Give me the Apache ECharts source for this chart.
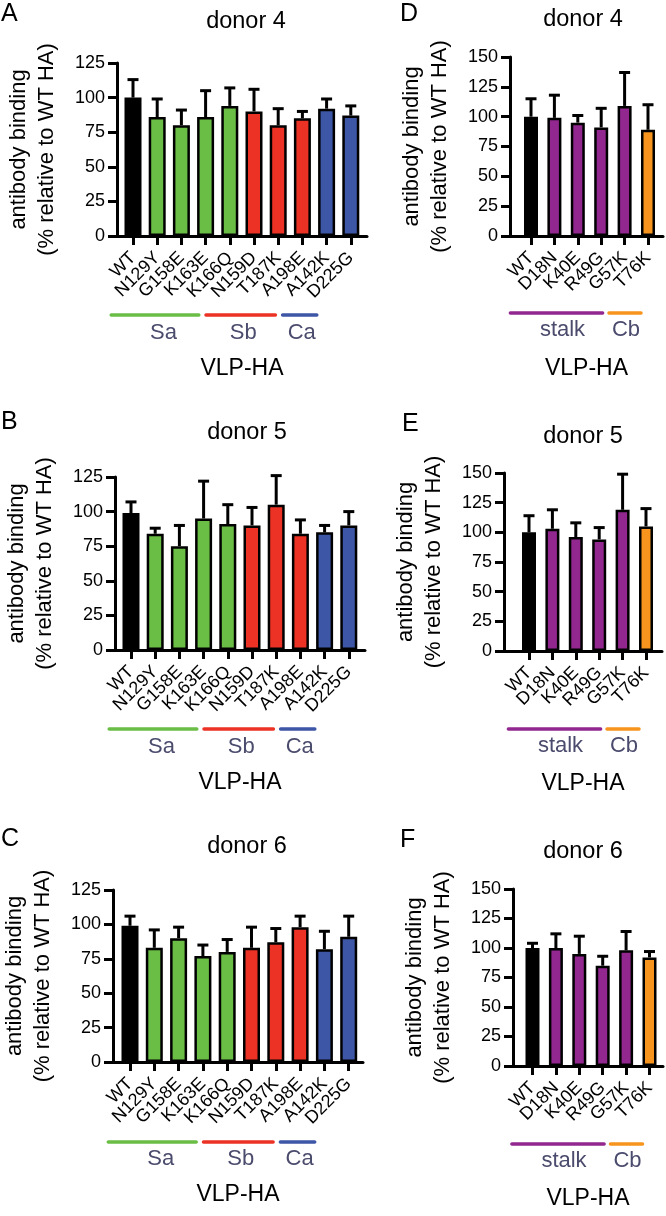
<!DOCTYPE html>
<html><head><meta charset="utf-8">
<script src="https://cdn.jsdelivr.net/npm/echarts@6/dist/echarts.min.js"></script>
<style>html,body{margin:0;padding:0;background:#fff}#c{width:666px;height:1216px}</style>
</head><body><div id="c"></div>
<script>
// ---------- data ----------
const headMutants = ['WT','N129Y','G158E','K163E','K166Q','N159D','T187K','A198E','A142K','D225G'];
const headGroups  = ['WT','Sa','Sa','Sa','Sa','Sb','Sb','Sb','Ca','Ca'];
const stalkMutants = ['WT','D18N','K40E','R49G','G57K','T76K'];
const stalkGroups  = ['WT','stalk','stalk','stalk','stalk','Cb'];

const donor4Head      = [100, 86, 80, 86, 94, 90, 80, 85, 92, 87];
const donor4HeadUpper = [113, 99, 91, 105, 107, 106, 92, 90, 99, 94];
const donor5Head      = [99, 84, 75, 95, 91, 90, 105, 84, 85, 90];
const donor5HeadUpper = [107, 88, 90, 122, 105, 103, 126, 94, 90, 100];
const donor6Head      = [99, 83, 90, 77, 80, 83, 87, 98, 82, 91];
const donor6HeadUpper = [106, 96, 98, 85, 89, 98, 97, 106, 95, 106];

const donor4Stalk      = [100, 99, 95, 91, 109, 89];
const donor4StalkUpper = [115, 118, 101, 107, 137, 110];
const donor5Stalk      = [100, 103, 96, 94, 119, 105];
const donor5StalkUpper = [114, 119, 108, 104, 149, 120];
const donor6Stalk      = [100, 100, 95, 85, 98, 92];
const donor6StalkUpper = [104, 112, 110, 93, 114, 97];

const headYMax = 125, stalkYMax = 150, yStep = 25;

// ---------- styles / layout ----------
const FONT = '"Liberation Sans", Arial, Helvetica, sans-serif';
const groupStyle = {
  WT:    {color:'#000000'},
  Sa:    {color:'#6abd45', start:-46, end:-31, label:-30},
  Sb:    {color:'#ec3224', start:-48, end:-27, label:-35},
  Ca:    {color:'#3d56a6', start:-44, end:-34, label:-37},
  stalk: {color:'#92278f', start:-44, end:-22, label:-27},
  Cb:    {color:'#f7941d', start:-39, end:-7,  label:-22}
};
const groupLabelColor = '#4b4b6d';

const panels = [
  {letter:'A', title:'donor 4', cats:headMutants, groups:headGroups, vals:donor4Head, upper:donor4HeadUpper, ymax:headYMax,
   axisX:117, top:63, width:250, height:173, firstCenter:133, band:24.2, barWidth:17, letterPos:[1,14], titlePos:[246,22], lineDy:79, labelDy:97},
  {letter:'B', title:'donor 5', cats:headMutants, groups:headGroups, vals:donor5Head, upper:donor5HeadUpper, ymax:headYMax,
   axisX:115, top:477, width:250, height:173, firstCenter:131, band:24.2, barWidth:17, letterPos:[1,422], titlePos:[247,433], lineDy:79, labelDy:97},
  {letter:'C', title:'donor 6', cats:headMutants, groups:headGroups, vals:donor6Head, upper:donor6HeadUpper, ymax:headYMax,
   axisX:113, top:890, width:250, height:172, firstCenter:130, band:24.3, barWidth:17, letterPos:[1,839], titlePos:[247,847], lineDy:80, labelDy:97},
  {letter:'D', title:'donor 4', cats:stalkMutants, groups:stalkGroups, vals:donor4Stalk, upper:donor4StalkUpper, ymax:stalkYMax,
   axisX:510, top:57, width:153, height:179, firstCenter:531, band:23.4, barWidth:14, letterPos:[400,14], titlePos:[583,20], lineDy:77, labelDy:94},
  {letter:'E', title:'donor 5', cats:stalkMutants, groups:stalkGroups, vals:donor5Stalk, upper:donor5StalkUpper, ymax:stalkYMax,
   axisX:504, top:473, width:158, height:178, firstCenter:529, band:23.4, barWidth:14, letterPos:[402,424], titlePos:[583,437], lineDy:78, labelDy:95},
  {letter:'F', title:'donor 6', cats:stalkMutants, groups:stalkGroups, vals:donor6Stalk, upper:donor6StalkUpper, ymax:stalkYMax,
   axisX:513, top:889, width:150, height:177, firstCenter:532.5, band:23.4, barWidth:14, letterPos:[400,840], titlePos:[583,852], lineDy:78, labelDy:95}
];

const chart = echarts.init(document.getElementById('c'), null, {renderer:'canvas'});

const grids = [], xAxes = [], yAxes = [], series = [];
const axisLineStyle = {color:'#000', width:3};
panels.forEach((p, k) => {
  const outer = 2 * k, inner = 2 * k + 1;
  // outer frame: L-shaped axes, y ticks/labels, axis names
  grids.push({left:p.axisX, top:p.top, width:p.width, height:p.height, containLabel:false, outerBoundsMode:'none'});
  // inner plotting band: category positions for the bars
  grids.push({left:p.firstCenter - p.band / 2, top:p.top, width:p.band * p.cats.length, height:p.height,
    containLabel:false, outerBoundsMode:'none'});

  xAxes.push({
    gridIndex:outer, type:'value', min:0, max:1,
    axisLine:{show:true, onZero:false, lineStyle:axisLineStyle},
    axisTick:{show:false}, axisLabel:{show:false}, splitLine:{show:false},
    name:'VLP-HA', nameLocation:'middle', nameGap:121,
    nameTextStyle:{fontSize:23, color:'#000', fontFamily:FONT}
  });
  xAxes.push({
    gridIndex:inner, type:'category', data:p.cats, boundaryGap:true,
    axisLine:{show:false, onZero:false},
    axisTick:{show:true, alignWithLabel:true, interval:0, length:9, lineStyle:{color:'#000', width:3}},
    axisLabel:{show:true, interval:0, rotate:45, margin:19, fontSize:18, color:'#000', fontFamily:FONT},
    splitLine:{show:false}
  });
  yAxes.push({
    gridIndex:outer, type:'value', min:0, max:p.ymax, interval:yStep,
    axisLine:{show:true, onZero:false, lineStyle:axisLineStyle},
    axisTick:{show:true, length:9, lineStyle:{color:'#000', width:3}},
    axisLabel:{fontSize:18, color:'#000', margin:12, fontFamily:FONT},
    splitLine:{show:false},
    name:'antibody binding\n(% relative to WT HA)', nameLocation:'middle', nameGap:56,
    nameTextStyle:{fontSize:22, lineHeight:28, color:'#000', fontFamily:FONT}
  });
  yAxes.push({
    gridIndex:inner, type:'value', min:0, max:p.ymax, interval:yStep, show:false
  });
  series.push({
    type:'bar', xAxisIndex:inner, yAxisIndex:inner, barWidth:p.barWidth, z:2,
    data:p.vals.map((v, i) => ({value:v,
      itemStyle:{color:groupStyle[p.groups[i]].color, borderColor:'#000', borderWidth:2.5}})),
    itemStyle:{borderColor:'#000', borderWidth:2.5}
  });
  series.push({
    type:'custom', xAxisIndex:inner, yAxisIndex:inner, z:3,
    data:p.vals.map((v, i) => [i, v, p.upper[i]]),
    renderItem:(params, api) => {
      const a = api.coord([api.value(0), api.value(1)]);
      const b = api.coord([api.value(0), api.value(2)]);
      const st = {stroke:'#000', lineWidth:3};
      return {type:'group', children:[
        {type:'line', shape:{x1:a[0], y1:a[1], x2:b[0], y2:b[1]}, style:st},
        {type:'line', shape:{x1:b[0]-5.5, y1:b[1], x2:b[0]+5.5, y2:b[1]}, style:st}
      ]};
    }
  });
});

chart.setOption({
  animation:false, backgroundColor:'#fff',
  grid:grids, xAxis:xAxes, yAxis:yAxes, series:series
});

// annotations: letters, titles, epitope group bars
const graphics = [];
panels.forEach((p, k) => {
  const base = p.top + p.height;
  graphics.push({type:'text', x:p.letterPos[0], y:p.letterPos[1],
    style:{text:p.letter, font:'25px ' + FONT, fill:'#000', textAlign:'left', textVerticalAlign:'middle'}});
  graphics.push({type:'text', x:p.titlePos[0], y:p.titlePos[1],
    style:{text:p.title, font:'23.5px ' + FONT, fill:'#000', textAlign:'center', textVerticalAlign:'middle'}});
  const names = [];
  p.groups.forEach(g => { if (g !== 'WT' && names.indexOf(g) < 0) names.push(g); });
  names.forEach(name => {
    const idx = p.groups.map((g, i) => g === name ? i : -1).filter(i => i >= 0);
    const cs = idx.map(i => chart.convertToPixel({xAxisIndex:2 * k + 1}, i));
    const s = groupStyle[name];
    const mean = cs.reduce((a, b) => a + b, 0) / cs.length;
    graphics.push({type:'line', shape:{x1:cs[0] + s.start, y1:base + p.lineDy, x2:cs[cs.length-1] + s.end, y2:base + p.lineDy},
      style:{stroke:s.color, lineWidth:3.5, lineCap:'round'}});
    graphics.push({type:'text', x:mean + s.label, y:base + p.labelDy,
      style:{text:name, font:'22px ' + FONT, fill:groupLabelColor, textAlign:'center', textVerticalAlign:'middle'}});
  });
});
chart.setOption({graphic:graphics});
</script>
</body></html>
